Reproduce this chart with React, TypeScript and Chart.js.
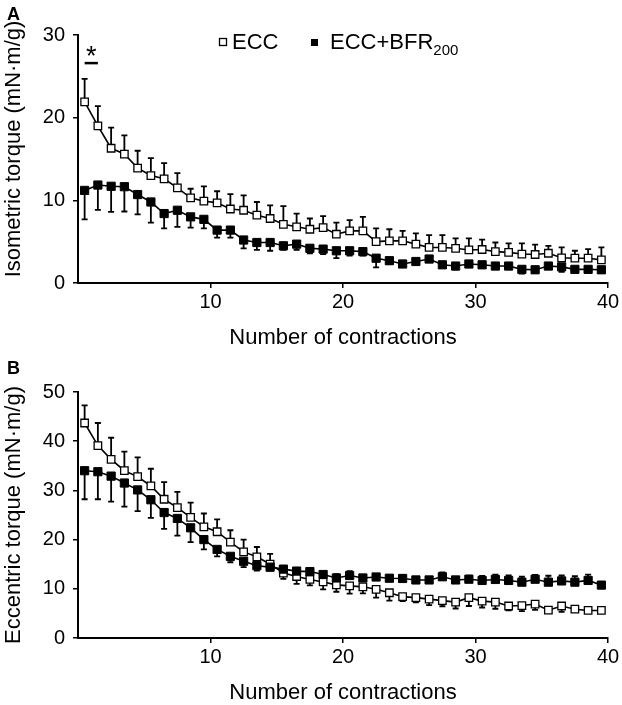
import React, { useEffect, useRef } from "react";
import { Chart, registerables } from "chart.js";

Chart.register(...registerables);

const FONT = "'Liberation Sans', Arial, Helvetica, sans-serif";

const contractions = [
  1, 2, 3, 4, 5, 6, 7, 8, 9, 10, 11, 12, 13, 14, 15, 16, 17, 18, 19, 20,
  21, 22, 23, 24, 25, 26, 27, 28, 29, 30, 31, 32, 33, 34, 35, 36, 37, 38, 39, 40,
];

const xTicks = [10, 20, 30, 40];
const isoTicks = [0, 10, 20, 30];
const eccTicks = [0, 10, 20, 30, 40, 50];

const seriesNames = ["ECC", "ECC+BFR", "200"];
const xTitle = "Number of contractions";
const isoTitle = "Isometric torque (mN·m/g)";
const eccTitle = "Eccentric torque (mN·m/g)";

// Panel A: isometric torque
const isoEccMean = [
  21.9, 19.0, 16.3, 15.6, 13.9, 13.0, 12.6, 11.5, 10.3, 9.9,
  9.7, 8.95, 8.8, 8.2, 7.8, 7.1, 6.8, 6.5, 6.7, 5.9,
  6.3, 6.3, 5.0, 5.1, 5.1, 4.7, 4.3, 4.3, 4.2, 4.0,
  4.05, 3.8, 3.7, 3.5, 3.45, 3.6, 3.05, 3.0, 3.0, 2.8,
];
const isoEccErr = [
  2.8, 2.4, 2.5, 2.25, 2.1, 2.1, 1.9, 1.8, 1.1, 1.8,
  1.4, 1.8, 1.8, 1.6, 1.6, 2.2, 1.6, 1.3, 1.4, 1.4,
  1.3, 1.7, 1.6, 1.4, 1.2, 1.3, 1.5, 1.5, 1.2, 1.4,
  1.2, 1.1, 1.1, 1.3, 1.2, 0.9, 1.25, 0.9, 1.1, 1.5,
];
const isoBfrMean = [
  11.2, 11.85, 11.7, 11.65, 10.7, 9.8, 8.4, 8.8, 8.0, 7.7,
  6.4, 6.4, 5.2, 4.9, 4.9, 4.5, 4.7, 4.2, 4.1, 3.9,
  3.9, 3.8, 3.0, 2.7, 2.3, 2.6, 2.9, 2.2, 2.05, 2.3,
  2.2, 2.05, 2.05, 1.65, 1.6, 2.05, 1.95, 1.65, 1.65, 1.6,
];
const isoBfrErr = [
  3.5, 3.0, 3.1, 3.0, 2.4, 2.5, 1.8, 2.0, 1.3, 1.1,
  0.9, 0.9, 1.0, 0.9, 1.0, 0.5, 0.7, 0.6, 0.6, 0.9,
  0.6, 0.5, 1.1, 0.4, 0.3, 0.3, 0.3, 0.3, 0.4, 0.3,
  0.3, 0.3, 0.3, 0.5, 0.3, 0.3, 0.6, 0.3, 0.3, 0.3,
];

// Panel B: eccentric torque
const eccEccMean = [
  43.7, 39.1, 36.3, 34.0, 32.8, 30.9, 28.2, 26.5, 24.5, 22.6,
  21.6, 19.5, 17.5, 16.5, 15.0, 13.2, 12.5, 11.9, 11.4, 10.8,
  10.6, 10.4, 9.9, 9.2, 8.4, 8.2, 7.9, 7.6, 7.3, 8.2,
  7.5, 7.3, 6.5, 6.6, 6.9, 5.65, 6.5, 5.85, 5.6, 5.6,
];
const eccEccErr = [
  3.6, 4.6, 4.4, 3.9, 3.9, 3.5, 3.5, 3.2, 3.0, 2.7,
  2.5, 2.4, 2.5, 2.0, 2.1, 1.2, 1.5, 1.2, 1.5, 1.4,
  1.6, 1.35, 1.7, 1.6, 0.9, 0.95, 1.2, 1.15, 1.3, 1.7,
  1.3, 1.35, 0.9, 1.15, 1.2, 0.3, 1.2, 0.5, 0.3, 0.3,
];
const eccBfrMean = [
  34.0, 33.8, 32.9, 31.5, 30.1, 28.1, 25.5, 24.3, 22.4, 20.0,
  18.0, 16.6, 15.6, 14.7, 14.4, 14.0, 13.6, 13.5, 12.9, 12.2,
  12.7, 12.2, 12.4, 12.15, 12.1, 11.8, 11.8, 12.45, 11.8, 11.95,
  11.7, 11.9, 11.7, 11.35, 11.95, 11.35, 11.6, 11.35, 11.7, 10.75,
];
const eccBfrErr = [
  5.8, 5.6, 5.2, 4.8, 4.3, 3.7, 3.3, 3.5, 2.9, 2.0,
  1.4, 1.2, 1.2, 1.0, 0.7, 0.6, 0.6, 0.7, 0.6, 0.8,
  0.9, 0.6, 0.6, 0.5, 0.6, 0.6, 0.6, 0.9, 0.6, 0.7,
  0.9, 1.0, 1.0, 1.1, 0.9, 1.3, 1.1, 1.2, 1.2, 0.4,
];

// significance bar over contractions 1-2 in panel A
const sigRange = [1, 2];
const sigLevel = 26.6;

type PanelCfg = {
  letter: string;
  yTitle: string;
  yTitleShift: number;
  yMax: number;
  yTicks: number[];
  eccMean: number[];
  eccErr: number[];
  bfrMean: number[];
  bfrErr: number[];
  height: number;
  padTop: number;
  letterBaseline: number;
  legend: boolean;
  sig: boolean;
};

function makePlugin(cfg: PanelCfg) {
  return {
    id: "panelExtras" + cfg.letter,
    beforeDatasetsDraw(chart: any) {
      const ctx = chart.ctx;
      const ys = chart.scales.y;
      const means = [cfg.bfrMean, cfg.eccMean];
      const errs = [cfg.bfrErr, cfg.eccErr];
      ctx.save();
      ctx.strokeStyle = "#000";
      ctx.lineWidth = 1.8;
      for (let d = 0; d < 2; d++) {
        const meta = chart.getDatasetMeta(d);
        const own = means[d];
        const other = means[1 - d];
        meta.data.forEach((pt: any, i: number) => {
          const up = own[i] >= other[i];
          const endVal = up ? own[i] + errs[d][i] : own[i] - errs[d][i];
          const yEnd = ys.getPixelForValue(endVal);
          ctx.beginPath();
          ctx.moveTo(pt.x, pt.y);
          ctx.lineTo(pt.x, yEnd);
          ctx.moveTo(pt.x - 3, yEnd);
          ctx.lineTo(pt.x + 3, yEnd);
          ctx.stroke();
        });
      }
      ctx.restore();
    },
    afterDraw(chart: any) {
      const ctx = chart.ctx;
      const area = chart.chartArea;
      const xs = chart.scales.x;
      const ys = chart.scales.y;
      ctx.save();
      ctx.fillStyle = "#000";
      ctx.strokeStyle = "#000";

      // panel letter
      ctx.font = `bold 18px ${FONT}`;
      ctx.textAlign = "left";
      ctx.textBaseline = "alphabetic";
      ctx.fillText(cfg.letter, 7, cfg.letterBaseline);

      // x title
      ctx.font = `22px ${FONT}`;
      ctx.textAlign = "center";
      ctx.fillText(xTitle, (area.left + area.right) / 2, area.bottom + 61);

      // y title
      ctx.save();
      ctx.translate(14, (area.top + area.bottom) / 2 + cfg.yTitleShift);
      ctx.rotate(-Math.PI / 2);
      ctx.textBaseline = "middle";
      ctx.textAlign = "center";
      ctx.fillText(cfg.yTitle, 0, 0);
      ctx.restore();

      if (cfg.legend) {
        ctx.lineWidth = 1.3;
        ctx.fillStyle = "#fff";
        ctx.fillRect(219.5, 38.5, 7, 7);
        ctx.strokeRect(219.5, 38.5, 7, 7);
        ctx.fillStyle = "#000";
        ctx.fillRect(311, 39, 7, 7);
        ctx.font = `22px ${FONT}`;
        ctx.textAlign = "left";
        ctx.textBaseline = "alphabetic";
        ctx.fillText(seriesNames[0], 232, 49);
        ctx.fillText(seriesNames[1], 330, 49);
        const w = ctx.measureText(seriesNames[1]).width;
        ctx.font = `15px ${FONT}`;
        ctx.fillText(seriesNames[2], 330 + w, 55);
      }

      if (cfg.sig) {
        const x1 = xs.getPixelForValue(sigRange[0] - 0.5);
        const x2 = xs.getPixelForValue(sigRange[1] - 0.5);
        const yl = ys.getPixelForValue(sigLevel);
        ctx.lineWidth = 2.5;
        ctx.beginPath();
        ctx.moveTo(x1, yl);
        ctx.lineTo(x2, yl);
        ctx.stroke();
        ctx.font = `27px ${FONT}`;
        ctx.textAlign = "center";
        ctx.textBaseline = "alphabetic";
        ctx.fillText("*", (x1 + x2) / 2, yl + 2);
      }
      ctx.restore();
    },
  };
}

function Panel({ cfg }: { cfg: PanelCfg }) {
  const ref = useRef<HTMLCanvasElement | null>(null);
  useEffect(() => {
    if (!ref.current) return;
    const toPts = (arr: number[]) =>
      contractions.map((n, i) => ({ x: n - 0.5, y: arr[i] }));
    const chart = new Chart(ref.current, {
      type: "line",
      data: {
        datasets: [
          {
            label: seriesNames[1] + seriesNames[2],
            data: toPts(cfg.bfrMean),
            borderColor: "#000",
            borderWidth: 1.6,
            backgroundColor: "#000",
            pointStyle: "rect",
            pointRadius: 5.8,
            pointBorderWidth: 1,
            pointBackgroundColor: "#000",
            pointBorderColor: "#000",
            tension: 0,
          },
          {
            label: seriesNames[0],
            data: toPts(cfg.eccMean),
            borderColor: "#000",
            borderWidth: 1.6,
            backgroundColor: "#fff",
            pointStyle: "rect",
            pointRadius: 5.3,
            pointBorderWidth: 1.3,
            pointBackgroundColor: "#fff",
            pointBorderColor: "#000",
            tension: 0,
          },
        ],
      },
      options: {
        responsive: false,
        animation: false,
        events: [],
        layout: { padding: { top: cfg.padTop, right: 14, left: 0, bottom: 0 } },
        plugins: {
          legend: { display: false },
          tooltip: { enabled: false },
        },
        scales: {
          x: {
            type: "linear",
            min: 0,
            max: 40,
            afterBuildTicks: (s: any) => {
              s.ticks = xTicks.map((v) => ({ value: v }));
            },
            afterFit: (s: any) => {
              s.height = 67;
            },
            grid: {
              display: true,
              drawOnChartArea: false,
              drawTicks: true,
              tickLength: 5,
              color: "#000",
              lineWidth: 1.5,
            },
            border: { display: true, color: "#000", width: 2 },
            ticks: {
              color: "#000",
              font: { family: FONT, size: 20 },
              padding: 2,
              maxRotation: 0,
              autoSkip: false,
            },
          },
          y: {
            type: "linear",
            min: 0,
            max: cfg.yMax,
            afterBuildTicks: (s: any) => {
              s.ticks = cfg.yTicks.map((v) => ({ value: v }));
            },
            afterFit: (s: any) => {
              s.width = 78;
            },
            grid: {
              display: true,
              drawOnChartArea: false,
              drawTicks: true,
              tickLength: 5,
              color: "#000",
              lineWidth: 1.5,
            },
            border: { display: true, color: "#000", width: 2 },
            ticks: {
              color: "#000",
              font: { family: FONT, size: 20 },
              padding: 8,
              autoSkip: false,
            },
          },
        },
      },
      plugins: [makePlugin(cfg)],
    } as any);
    return () => chart.destroy();
  }, [cfg]);
  return (
    <canvas
      ref={ref}
      width={622}
      height={cfg.height}
      style={{ display: "block", width: 622, height: cfg.height }}
    />
  );
}

const panelA: PanelCfg = {
  letter: "A",
  yTitle: isoTitle,
  yTitleShift: -10,
  yMax: 30,
  yTicks: isoTicks,
  eccMean: isoEccMean,
  eccErr: isoEccErr,
  bfrMean: isoBfrMean,
  bfrErr: isoBfrErr,
  height: 350,
  padTop: 35,
  letterBaseline: 20,
  legend: true,
  sig: true,
};

const panelB: PanelCfg = {
  letter: "B",
  yTitle: eccTitle,
  yTitleShift: 0,
  yMax: 50,
  yTicks: eccTicks,
  eccMean: eccEccMean,
  eccErr: eccEccErr,
  bfrMean: eccBfrMean,
  bfrErr: eccBfrErr,
  height: 355,
  padTop: 42,
  letterBaseline: 23.5,
  legend: false,
  sig: false,
};

export default function App() {
  return (
    <div
      style={{
        position: "absolute",
        left: 0,
        top: 0,
        width: 622,
        height: 705,
        background: "#fff",
      }}
    >
      <Panel cfg={panelA} />
      <Panel cfg={panelB} />
    </div>
  );
}
